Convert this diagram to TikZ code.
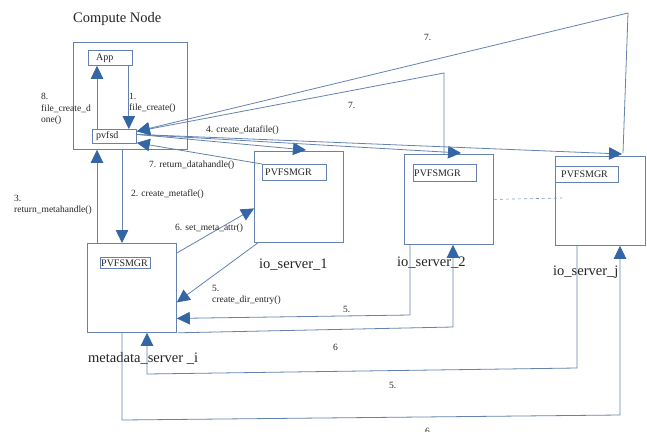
\documentclass[tikz,border=0pt]{standalone}
\usepackage{fontspec}
\setmainfont{Liberation Serif}
\usetikzlibrary{arrows.meta,calc}
\definecolor{linecol}{RGB}{100,130,175}
\definecolor{tipcol}{RGB}{52,101,164}
\definecolor{txtcol}{RGB}{35,35,35}
\tikzset{
  box/.style={draw=linecol, line width=0.8pt, inner sep=0pt, anchor=north west},
  conn/.style={draw=linecol, line width=0.8pt},
  arr/.style={conn, -{Triangle[length=13pt,width=12.5pt,color=tipcol]}},
  small/.style={font=\fontsize{9.5}{11.5}\selectfont, text=txtcol, inner sep=0pt, align=left},
  big/.style={font=\fontsize{14.5}{17}\selectfont, text=txtcol, inner sep=0pt, anchor=base west},
  mgr/.style={font=\fontsize{10}{12}\selectfont, text=txtcol, inner sep=0pt, anchor=west},
}
\begin{document}
\begin{tikzpicture}[x=1pt,y=-1pt]
\useasboundingbox (0,0) rectangle (647,431);

% ---- compute node ----
\node[big] (ctitle) at (73,22) {Compute Node};
\node[box, minimum width=114pt, minimum height=107pt] (compute) at (73,42) {};
\node[box, minimum width=44pt, minimum height=15pt] (app) at (88,50) {};
\node[mgr] (apptxt) at ([xshift=8pt]app.west) {App};
\node[box, minimum width=44pt, minimum height=14pt] (pvfsd) at (92,129) {};
\node[mgr] (pvfsdtxt) at ([xshift=4pt]pvfsd.west) {pvfsd};

% ---- metadata server ----
\node[box, minimum width=89pt, minimum height=89pt] (meta) at (87,243) {};
\node[box, minimum width=50pt, minimum height=11pt] (mgrM) at (100,257) {};
\node[mgr] (mgrMtxt) at ([xshift=1pt]mgrM.west) {PVFSMGR};
\node[big] (metalbl) at (88,362) {metadata\_server \_i};

% ---- io servers ----
\node[box, minimum width=89pt, minimum height=91pt] (io1) at (254,151) {};
\node[box, minimum width=64pt, minimum height=16pt] (mgr1) at (262,164) {};
\node[mgr] (mgr1txt) at ([xshift=3pt]mgr1.west) {PVFSMGR};
\node[big] (io1lbl) at (259,268) {io\_server\_1};

\node[box, minimum width=89pt, minimum height=90pt] (io2) at (404,154) {};
\node[box, minimum width=63pt, minimum height=17pt] (mgr2) at (413,164) {};
\node[mgr] (mgr2txt) at ([xshift=1pt]mgr2.west) {PVFSMGR};
\node[big] (io2lbl) at (397,266) {io\_server\_2};

\node[box, minimum width=90pt, minimum height=89pt] (ioj) at (555,156) {};
\node[box, minimum width=63pt, minimum height=16pt] (mgrj) at (555,166) {};
\node[mgr] (mgrjtxt) at ([xshift=6pt]mgrj.west) {PVFSMGR};
\node[big] (iojlbl) at (553,275) {io\_server\_j};

\coordinate (dashend) at (562,198);
\draw[draw=linecol!80, line width=0.7pt, dash pattern=on 3pt off 3pt] (io2.east) -- (dashend);

% ---- inside the compute node ----
\draw[arr] ([xshift=-4pt]app.south east) -- ([xshift=-4pt]app.south east |- pvfsd.north);
\draw[arr] ([xshift=5pt]pvfsd.north west) -- ([xshift=5pt]pvfsd.north west |- app.south);
\node[small, anchor=north west] (l1) at (129,93) {1.\\file\_create()};
\node[small, anchor=north west] (l8) at (41,93) {8.\\file\_create\_d\\one()};

% ---- compute node <-> metadata server ----
\draw[arr] ([xshift=49pt]compute.south west) -- ([xshift=49pt]compute.south west |- meta.north);
\draw[arr] ([xshift=10pt]meta.north west) -- ([xshift=10pt]meta.north west |- compute.south);
\node[small, anchor=base west] (l2) at (131,196) {2. create\_metafle()};
\node[small, anchor=north west] (l3) at (14,195) {3.\\return\_metahandle()};

% ---- pvfsd -> io servers ----
\coordinate (pvo) at ([yshift=2pt]pvfsd.east);
\coordinate (pvi) at ([yshift=5pt]pvfsd.east);
\draw[arr] (pvo) -- ([xshift=52pt,yshift=1pt]io1.north west);
\draw[arr] (pvo) -- ([xshift=57pt,yshift=1pt]io2.north west);
\draw[arr] (pvo) -- ([xshift=67pt,yshift=2pt]ioj.north west);
\node[small, anchor=base west] (l4) at (206,132) {4. create\_datafile()};

% ---- io servers -> pvfsd ----
\coordinate (r2) at (444,73);
\coordinate (rj) at (628,13);
\draw[arr] ([xshift=40pt]io2.north west) -- (r2) -- (pvi);
\draw[arr] ([xshift=68pt,yshift=3pt]ioj.north west) -- (rj) -- (pvi);
\draw[arr] (mgr1.north west) -- ([yshift=1pt]pvfsd.south east);
\node[small, anchor=base west] (l7a) at (149,167) {7. return\_datahandle()};
\node[small, anchor=base west] (l7b) at (348,108) {7.};
\node[small, anchor=base west] (l7c) at (424,40) {7.};

% ---- metadata server <-> io_server_1 ----
\draw[arr] ([yshift=-10pt]meta.north east) -- ([yshift=-11.5pt]io1.west);
\draw[arr] ([xshift=4pt]io1.south west) -- ([yshift=-14.5pt]meta.east);
\node[small, anchor=base west] (l6a) at (175,230) {6. set\_meta\_attr()};
\node[small, anchor=north west] (l5a) at (212,285) {5.\\create\_dir\_entry()};

% ---- metadata server <-> io_server_2 ----
\coordinate (a5) at (410,315);
\draw[arr] ([xshift=6pt]io2.south west) -- (a5) -- ([yshift=-30.5pt]meta.east);
\coordinate (b6) at (453,327);
\draw[arr] ([xshift=1pt]meta.south east) -- (b6) -- ([xshift=49pt]io2.south west);
\node[small, anchor=base west] (l5b) at (343,312) {5.};
\node[small, anchor=base west] (l6b) at (333,350) {6};

% ---- metadata server <-> io_server_j ----
\coordinate (c5a) at (577,368);
\coordinate (c5b) at (147,374);
\draw[arr] ([xshift=22pt]ioj.south west) -- (c5a) -- (c5b) -- ([xshift=60pt]meta.south west);
\coordinate (d6a) at (122,420);
\coordinate (d6b) at (620,415);
\draw[arr] ([xshift=35pt]meta.south west) -- (d6a) -- (d6b) -- ([xshift=65pt]ioj.south west);
\node[small, anchor=base west] (l5c) at (389,388) {5.};
\node[small, anchor=base west] (l6c) at (425,434) {6.};
\end{tikzpicture}
\end{document}
